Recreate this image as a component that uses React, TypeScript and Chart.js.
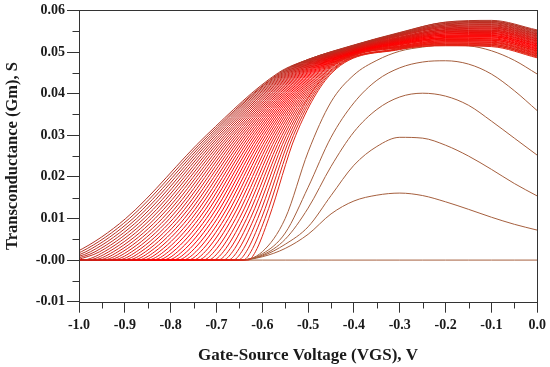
import React, { useEffect, useRef } from 'react';
import { Chart, registerables } from 'chart.js';

Chart.register(...registerables);

// ---- Axis tick labels ----
const xTickLabels = ['-1.0', '-0.9', '-0.8', '-0.7', '-0.6', '-0.5', '-0.4', '-0.3', '-0.2', '-0.1', '0.0'];
const yTickLabels = ['-0.01', '-0.00', '0.01', '0.02', '0.03', '0.04', '0.05', '0.06'];

// ---- Low-bias curves, sampled on a common VGS grid ----
const vgsGrid = [-1.0, -0.95, -0.9, -0.85, -0.8, -0.75, -0.7, -0.65, -0.6, -0.55, -0.5, -0.45, -0.4, -0.35, -0.3, -0.25, -0.2, -0.15, -0.1, -0.05, 0.0];
const gmFlat = [0, 0, 0, 0, 0, 0, 0, 0, 0, 0, 0, 0, 0, 0, 0, 0, 0, 0, 0, 0, 0];
const gmLow1 = [0, 0, 0, 0, 0, 0, 0, 0, 0.0008, 0.0028, 0.0062, 0.0111, 0.0142, 0.0156, 0.0161, 0.0155, 0.0140, 0.0122, 0.0103, 0.0086, 0.0072];
const gmLow2 = [0, 0, 0, 0, 0, 0, 0, 0, 0.0010, 0.0038, 0.0080, 0.0155, 0.0228, 0.0273, 0.0295, 0.0293, 0.0276, 0.0250, 0.0218, 0.0184, 0.0154];
const gmLow3 = [0, 0, 0, 0, 0, 0, 0, 0, 0.0012, 0.0050, 0.0125, 0.0225, 0.0308, 0.0362, 0.0392, 0.0401, 0.0394, 0.0372, 0.0334, 0.0293, 0.0252];
const gmLow4 = [0, 0, 0, 0, 0, 0, 0, 0, 0.0015, 0.0065, 0.0175, 0.0295, 0.0378, 0.0432, 0.0462, 0.0476, 0.0479, 0.0471, 0.0447, 0.0407, 0.0359];
const gmLow5 = [0, 0, 0, 0, 0, 0, 0, 0, 0.0020, 0.0100, 0.0260, 0.0380, 0.0445, 0.0480, 0.0502, 0.0512, 0.0517, 0.0515, 0.0503, 0.0480, 0.0447];

// ---- Dense family: VGS where each curve crosses the given Gm levels ----
const riseLevels = [0, 0.002, 0.010, 0.030, 0.045];
const familyOnset = [-1.060, -1.049, -1.038, -1.027, -1.016, -1.005, -0.994, -0.983, -0.972, -0.961, -0.950, -0.939, -0.928, -0.917, -0.906, -0.895, -0.884, -0.873, -0.862, -0.851, -0.840, -0.829, -0.818, -0.807, -0.796, -0.785, -0.774, -0.763, -0.752, -0.741, -0.730, -0.719, -0.708, -0.697, -0.686, -0.675, -0.664, -0.653, -0.642, -0.631];
const familyX002 = [-1.005, -0.995, -0.985, -0.975, -0.965, -0.955, -0.945, -0.935, -0.925, -0.915, -0.905, -0.895, -0.885, -0.875, -0.865, -0.855, -0.845, -0.835, -0.825, -0.815, -0.805, -0.795, -0.785, -0.775, -0.765, -0.755, -0.745, -0.735, -0.725, -0.715, -0.705, -0.695, -0.685, -0.675, -0.665, -0.655, -0.645, -0.635, -0.625, -0.615];
const familyX010 = [-0.898, -0.890, -0.882, -0.874, -0.866, -0.858, -0.850, -0.842, -0.834, -0.826, -0.818, -0.810, -0.802, -0.794, -0.786, -0.778, -0.770, -0.762, -0.754, -0.746, -0.738, -0.730, -0.722, -0.714, -0.706, -0.698, -0.690, -0.682, -0.674, -0.666, -0.658, -0.650, -0.642, -0.634, -0.626, -0.618, -0.610, -0.602, -0.594, -0.586];
const familyX030 = [-0.722, -0.717, -0.712, -0.707, -0.702, -0.697, -0.692, -0.687, -0.682, -0.677, -0.672, -0.667, -0.662, -0.657, -0.652, -0.647, -0.642, -0.637, -0.632, -0.627, -0.622, -0.617, -0.612, -0.607, -0.602, -0.597, -0.592, -0.587, -0.582, -0.577, -0.572, -0.567, -0.562, -0.557, -0.552, -0.547, -0.542, -0.537, -0.532, -0.527];
const familyX045 = [-0.565, -0.562, -0.559, -0.556, -0.553, -0.550, -0.547, -0.544, -0.541, -0.538, -0.535, -0.532, -0.529, -0.526, -0.523, -0.520, -0.517, -0.514, -0.511, -0.508, -0.505, -0.502, -0.499, -0.496, -0.493, -0.490, -0.487, -0.484, -0.481, -0.478, -0.475, -0.472, -0.469, -0.466, -0.463, -0.460, -0.457, -0.454, -0.451, -0.448];

// ---- Dense family: Gm of each curve in the saturated band ----
const bandVgs = [-0.5, -0.4, -0.3, -0.2, -0.1, 0.0];
const bandGmM05 = [0.0482, 0.0482, 0.0481, 0.0481, 0.0481, 0.0480, 0.0480, 0.0480, 0.0480, 0.0479, 0.0479, 0.0479, 0.0478, 0.0478, 0.0478, 0.0477, 0.0477, 0.0477, 0.0476, 0.0476, 0.0476, 0.0476, 0.0475, 0.0475, 0.0475, 0.0474, 0.0474, 0.0474, 0.0473, 0.0473, 0.0473, 0.0472, 0.0472, 0.0472, 0.0472, 0.0471, 0.0471, 0.0471, 0.0470, 0.0470];
const bandGmM04 = [0.0517, 0.0516, 0.0516, 0.0515, 0.0514, 0.0513, 0.0513, 0.0512, 0.0511, 0.0510, 0.0510, 0.0509, 0.0508, 0.0507, 0.0507, 0.0506, 0.0505, 0.0504, 0.0504, 0.0503, 0.0502, 0.0501, 0.0501, 0.0500, 0.0499, 0.0498, 0.0498, 0.0497, 0.0496, 0.0495, 0.0495, 0.0494, 0.0493, 0.0493, 0.0492, 0.0491, 0.0490, 0.0490, 0.0489, 0.0488];
const bandGmM03 = [0.0547, 0.0546, 0.0545, 0.0544, 0.0543, 0.0542, 0.0541, 0.0540, 0.0539, 0.0538, 0.0536, 0.0535, 0.0534, 0.0533, 0.0532, 0.0531, 0.0530, 0.0529, 0.0528, 0.0527, 0.0526, 0.0525, 0.0524, 0.0523, 0.0522, 0.0521, 0.0520, 0.0519, 0.0518, 0.0517, 0.0515, 0.0514, 0.0513, 0.0512, 0.0511, 0.0510, 0.0509, 0.0508, 0.0507, 0.0506];
const bandGmM02 = [0.0572, 0.0571, 0.0569, 0.0568, 0.0566, 0.0565, 0.0563, 0.0562, 0.0560, 0.0559, 0.0557, 0.0556, 0.0554, 0.0553, 0.0552, 0.0550, 0.0549, 0.0547, 0.0546, 0.0544, 0.0543, 0.0541, 0.0540, 0.0538, 0.0537, 0.0535, 0.0534, 0.0533, 0.0531, 0.0530, 0.0528, 0.0527, 0.0525, 0.0524, 0.0522, 0.0521, 0.0519, 0.0518, 0.0516, 0.0515];
const bandGmM01 = [0.0576, 0.0574, 0.0573, 0.0571, 0.0570, 0.0568, 0.0566, 0.0565, 0.0563, 0.0561, 0.0560, 0.0558, 0.0557, 0.0555, 0.0553, 0.0552, 0.0550, 0.0549, 0.0547, 0.0545, 0.0544, 0.0542, 0.0540, 0.0539, 0.0537, 0.0536, 0.0534, 0.0532, 0.0531, 0.0529, 0.0528, 0.0526, 0.0524, 0.0523, 0.0521, 0.0519, 0.0518, 0.0516, 0.0515, 0.0513];
const bandGmM00 = [0.0553, 0.0551, 0.0550, 0.0548, 0.0546, 0.0544, 0.0543, 0.0541, 0.0539, 0.0538, 0.0536, 0.0534, 0.0532, 0.0531, 0.0529, 0.0527, 0.0526, 0.0524, 0.0522, 0.0520, 0.0519, 0.0517, 0.0515, 0.0514, 0.0512, 0.0510, 0.0508, 0.0507, 0.0505, 0.0503, 0.0502, 0.0500, 0.0498, 0.0496, 0.0495, 0.0493, 0.0491, 0.0490, 0.0488, 0.0486];
const bandColumns = [bandGmM05, bandGmM04, bandGmM03, bandGmM02, bandGmM01, bandGmM00];

const FONT = '"Liberation Serif", "Times New Roman", serif';
const INK = '#1a1a1a';

function mix(a: number[], b: number[], u: number): string {
  const c = a.map((v, k) => Math.round(v + (b[k] - v) * u));
  return `rgb(${c[0]},${c[1]},${c[2]})`;
}

function familyColor(i: number, n: number): string {
  const t = i / (n - 1);
  const dark = [178, 52, 38];
  const red = [255, 0, 0];
  const warm = [222, 38, 22];
  return t < 0.6 ? mix(dark, red, t / 0.6) : mix(red, warm, (t - 0.6) / 0.4);
}

const framePlugin = {
  id: 'frameAndMinor',
  afterDraw(chart: any) {
    const { ctx, chartArea: a, scales } = chart;
    ctx.save();
    ctx.strokeStyle = '#333';
    ctx.lineWidth = 1;
    const L = Math.round(a.left) + 0.5;
    const R = Math.round(a.right) + 0.5;
    const T = Math.round(a.top) + 0.5;
    const B = Math.round(a.bottom) + 0.5;
    ctx.strokeRect(L, T, R - L, B - T);
    ctx.beginPath();
    for (let k = 0; k < 7; k++) {
      const y = Math.round(scales.y.getPixelForValue(-0.005 + 0.01 * k)) + 0.5;
      ctx.moveTo(L - 7, y);
      ctx.lineTo(L, y);
    }
    for (let k = 0; k < 10; k++) {
      const x = Math.round(scales.x.getPixelForValue(-0.95 + 0.1 * k)) + 0.5;
      ctx.moveTo(x, B);
      ctx.lineTo(x, B + 6);
    }
    ctx.stroke();
    ctx.restore();
  },
};

export default function App() {
  const ref = useRef<HTMLCanvasElement>(null);

  useEffect(() => {
    const datasets: any[] = [];
    const n = familyOnset.length;
    const riseCols = [familyOnset, familyX002, familyX010, familyX030, familyX045];
    for (let i = 0; i < n; i++) {
      const pts: { x: number; y: number }[] = [];
      if (familyOnset[i] > -1) pts.push({ x: -1, y: 0 });
      riseCols.forEach((col, k) => pts.push({ x: col[i], y: riseLevels[k] }));
      bandVgs.forEach((xv, j) => {
        if (xv >= familyX045[i] + 0.06) pts.push({ x: xv, y: bandColumns[j][i] });
      });
      datasets.push({ data: pts, borderColor: familyColor(i, n) });
    }
    const lowColor = 'rgb(165,95,62)';
    [gmLow5, gmLow4, gmLow3, gmLow2, gmLow1, gmFlat].forEach((arr) => {
      datasets.push({
        data: vgsGrid.map((x, k) => ({ x, y: arr[k] })),
        borderColor: lowColor,
      });
    });

    const tickFont = { family: FONT, size: 14, weight: 'bold' as const };

    const chart = new Chart(ref.current as HTMLCanvasElement, {
      type: 'line',
      data: { datasets },
      plugins: [framePlugin],
      options: {
        responsive: false,
        animation: false,
        devicePixelRatio: 1,
        layout: { padding: { top: 10, right: 11, left: 0, bottom: 0 } },
        plugins: { legend: { display: false }, tooltip: { enabled: false } },
        elements: {
          point: { radius: 0 },
          line: { borderWidth: 1, cubicInterpolationMode: 'monotone' },
        },
        scales: {
          x: {
            type: 'linear',
            min: -1,
            max: 0,
            afterFit: (s: any) => { s.height = 65.3; },
            ticks: {
              stepSize: 0.1,
              autoSkip: false,
              maxRotation: 0,
              padding: 4,
              color: INK,
              font: tickFont,
              callback: (_v: any, i: number) => xTickLabels[i],
            },
            grid: { drawOnChartArea: false, drawTicks: true, tickLength: 11, tickColor: '#333', tickWidth: 1 },
            border: { display: false },
            title: {
              display: true,
              text: 'Gate-Source Voltage (VGS), V',
              color: INK,
              font: { family: FONT, size: 17, weight: 'bold' },
              padding: { top: 0, bottom: 1 },
            },
          },
          y: {
            type: 'linear',
            min: -0.01,
            max: 0.06,
            afterFit: (s: any) => { s.width = 79; },
            ticks: {
              stepSize: 0.01,
              padding: 2,
              color: INK,
              font: tickFont,
              callback: (_v: any, i: number) => yTickLabels[i],
            },
            grid: { drawOnChartArea: false, drawTicks: true, tickLength: 12, tickColor: '#333', tickWidth: 1 },
            border: { display: false },
            title: {
              display: true,
              text: 'Transconductance (Gm), S',
              color: INK,
              font: { family: FONT, size: 16.5, weight: 'bold' },
              padding: { top: 3, bottom: 0 },
            },
          },
        },
      } as any,
    });
    return () => chart.destroy();
  }, []);

  return (
    <div style={{ position: 'absolute', left: 0, top: 0, width: 550, height: 367, background: '#fff' }}>
      <canvas ref={ref} width={550} height={367} style={{ display: 'block' }} />
    </div>
  );
}
